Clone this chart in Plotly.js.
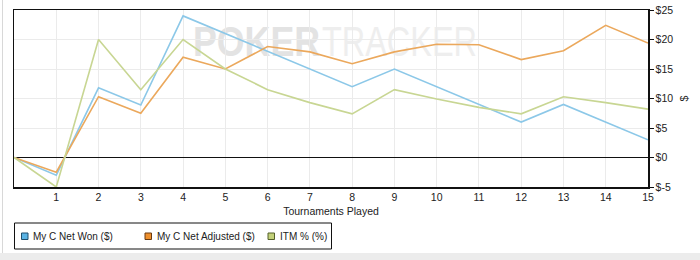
<!DOCTYPE html>
<html>
<head>
<meta charset="utf-8">
<script src="https://cdn.plot.ly/plotly-3.0.1.min.js"></script>
<style>
  html, body { margin: 0; padding: 0; background: #fff; }
  #wrap { position: relative; width: 700px; height: 260px; overflow: hidden; }
  #chart { width: 700px; height: 260px; }
  #edgeL { position: absolute; left: 2px; top: 0; width: 1px; height: 253px; background: #d8d8d8; }
  #band { position: absolute; left: 0; top: 253px; width: 700px; height: 7px; background: #ececec; }
</style>
</head>
<body>
<div id="wrap">
  <div id="chart"></div>
  <div id="edgeL"></div>
  <div id="band"></div>
</div>
<script>
// ---- data ----
const tournaments = [0, 1, 2, 3, 4, 5, 6, 7, 8, 9, 10, 11, 12, 13, 14, 15];
const netWon      = [0, -3, 11.8, 8.9, 24, 21, 18, 15, 12, 15, 12, 9, 6, 9, 6, 3];
const netAdjusted = [0, -2.5, 10.3, 7.5, 17, 15, 18.8, 17.9, 15.9, 17.9, 19.2, 19.1, 16.6, 18.1, 22.4, 19.4];
const itmPct      = [0, -5, 20, 11.5, 20, 15, 11.5, 9.3, 7.4, 11.5, 9.9, 8.5, 7.4, 10.3, 9.3, 8.2];
const seriesNames = ['My C Net Won ($)', 'My C Net Adjusted ($)', 'ITM % (%)'];
const xTickVals = [1, 2, 3, 4, 5, 6, 7, 8, 9, 10, 11, 12, 13, 14, 15];
const yTickVals = [-5, 0, 5, 10, 15, 20, 25];
const yTickText = ['$-5', '$0', '$5', '$10', '$15', '$20', '$25'];

const lineColors = ['#8cc8e8', '#eba85c', '#c8d693'];
const legendFill = ['#5ab3e4', '#ee8f2c', '#c3d17a'];
const legendEdge = ['#1f4f6e', '#6a3a10', '#55602a'];
const seriesData = [netWon, netAdjusted, itmPct];

// plot geometry (px) and helpers to convert to paper coords for legend/watermark
const W = 700, H = 260, ML = 14, MR = 52, MT = 10, MB = 73;
const PW = W - ML - MR, PH = H - MT - MB;
const px = v => (v - ML) / PW;
const py = v => (H - MB - v) / PH;

const traces = seriesData.map((ys, i) => ({
  x: tournaments, y: ys, type: 'scatter', mode: 'lines',
  name: seriesNames[i], showlegend: false,
  line: { color: lineColors[i], width: 1.6 }
}));

// custom legend: box, swatches and labels
const swatchX = [21.5, 145, 268];
const shapes = [{
  type: 'rect', xref: 'paper', yref: 'paper',
  x0: px(14.5), x1: px(331.5), y0: py(249), y1: py(223),
  line: { color: '#111', width: 1 }, fillcolor: '#fff', layer: 'above'
}];
const annotations = [];
seriesNames.forEach((n, i) => {
  shapes.push({
    type: 'rect', xref: 'paper', yref: 'paper',
    x0: px(swatchX[i]), x1: px(swatchX[i] + 6.5), y0: py(239.5), y1: py(233),
    line: { color: legendEdge[i], width: 1 }, fillcolor: legendFill[i], layer: 'above'
  });
  annotations.push({
    xref: 'paper', yref: 'paper', x: px(swatchX[i] + 9.5), y: py(236.5),
    xanchor: 'left', yanchor: 'middle', showarrow: false, text: n,
    font: { size: 10, color: '#222' }
  });
});

const wm = 'data:image/svg+xml;utf8,' + encodeURIComponent(
  '<svg xmlns="http://www.w3.org/2000/svg" width="290" height="34">' +
  '<text x="0" y="32" font-family="Liberation Sans, Arial, sans-serif" font-size="42" font-weight="bold" fill="#e3e3e3" textLength="127" lengthAdjust="spacingAndGlyphs">POKER</text>' +
  '<text x="129" y="32" font-family="Liberation Sans, Arial, sans-serif" font-size="42" fill="#eeeeee" textLength="155" lengthAdjust="spacingAndGlyphs">TRACKER</text>' +
  '</svg>');

const layout = {
  width: W, height: H,
  margin: { l: ML, r: MR, t: MT, b: MB, autoexpand: false },
  paper_bgcolor: '#ffffff', plot_bgcolor: '#ffffff',
  font: { family: 'Liberation Sans, Arial, sans-serif', size: 10.5, color: '#222' },
  showlegend: false,
  xaxis: {
    range: [0, 15], tickvals: xTickVals, ticks: '',
    showgrid: true, gridcolor: '#ebebeb', gridwidth: 1,
    zeroline: false, showline: true, mirror: true, linecolor: '#111', linewidth: 1.5,
    tickfont: { size: 10.5, color: '#222' },
    title: { text: 'Tournaments Played', font: { size: 10.5, color: '#222' }, standoff: 5 }
  },
  yaxis: {
    side: 'right', range: [-5, 25], tickvals: yTickVals, ticktext: yTickText,
    ticks: 'outside', ticklen: 4, tickcolor: '#111',
    showgrid: true, gridcolor: '#ebebeb', gridwidth: 1,
    zeroline: true, zerolinecolor: '#111', zerolinewidth: 1.5,
    showline: true, mirror: true, linecolor: '#111', linewidth: 1.5,
    tickfont: { size: 10.5, color: '#222' },
    title: { text: '$', font: { size: 10.5, color: '#222' }, standoff: 8 }
  },
  shapes: shapes,
  annotations: annotations,
  images: [{
    source: wm, xref: 'paper', yref: 'paper', x: px(193), y: py(24),
    sizex: 290 / PW, sizey: 34 / PH, xanchor: 'left', yanchor: 'top',
    sizing: 'stretch', layer: 'below'
  }]
};

Plotly.newPlot('chart', traces, layout, { displayModeBar: false, staticPlot: true });
</script>
</body>
</html>
